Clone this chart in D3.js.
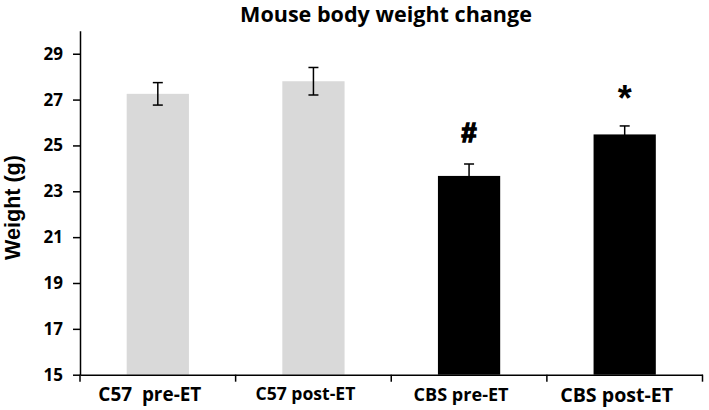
<!DOCTYPE html>
<html><head><meta charset="utf-8">
<script src="https://cdn.jsdelivr.net/npm/d3@7"></script>
<style>body{margin:0;background:#fff}svg{display:block}</style>
</head><body>
<script>
const categories = ["C57  pre-ET", "C57 post-ET", "CBS pre-ET", "CBS post-ET"];
const values = [27.25, 27.8, 23.67, 25.48];
const errors = [0.49, 0.6, 0.52, 0.37];
const colors = ["#d9d9d9", "#d9d9d9", "#000000", "#000000"];
const markers = ["", "", "#", "*"];
const yTicks = [15, 17, 19, 21, 23, 25, 27, 29];

const W = 709, H = 410;
const m = {left: 80, right: 6.5, top: 30.8, bottom: 35.3};
const font = "'Open Sans', sans-serif";
const svg = d3.select("body").append("svg").attr("width", W).attr("height", H);

const x = d3.scaleBand().domain(categories).range([m.left, W - m.right]).paddingInner(0).paddingOuter(0);
const y = d3.scaleLinear().domain([15, 30]).range([H - m.bottom, m.top]);

const bw = x.bandwidth() * 0.4;

svg.selectAll("rect.bar").data(categories).enter().append("rect")
  .attr("x", (d) => x(d) + x.bandwidth() / 2 - bw / 2)
  .attr("y", (d, i) => y(values[i]))
  .attr("width", bw)
  .attr("height", (d, i) => y(15) - y(values[i]))
  .attr("fill", (d, i) => colors[i]);

// error bars
const eb = svg.append("g").attr("stroke", "#000").attr("stroke-width", 1.5);
categories.forEach((c, i) => {
  const cx = x(c) + x.bandwidth() / 2;
  const hi = y(values[i] + errors[i]), lo = y(values[i] - errors[i]);
  eb.append("line").attr("x1", cx).attr("x2", cx).attr("y1", hi).attr("y2", lo);
  eb.append("line").attr("x1", cx - 5).attr("x2", cx + 5).attr("y1", hi).attr("y2", hi);
  eb.append("line").attr("x1", cx - 5).attr("x2", cx + 5).attr("y1", lo).attr("y2", lo);
});

// markers
categories.forEach((c, i) => {
  if (!markers[i]) return;
  const cx = x(c) + x.bandwidth() / 2;
  const star = markers[i] === "*";
  svg.append("text").attr("x", cx)
    .attr("y", y(values[i] + errors[i]) - (star ? 15 : 22))
    .attr("text-anchor", "middle").attr("font-family", "'Liberation Sans', Arial, sans-serif").attr("font-weight", "bold")
    .attr("font-size", star ? 36 : 27)
    .attr("stroke", "#000").attr("stroke-width", star ? 0 : 1.6)
    .text(markers[i]);
});

function fitWidth(sel, target) {
  const n = sel.node();
  const fs = parseFloat(sel.attr("font-size"));
  const w = n.getComputedTextLength();
  sel.attr("font-size", fs * target / w);
}

// y axis
const ya = svg.append("g").attr("transform", `translate(${m.left},0)`)
  .call(d3.axisLeft(y).tickValues(yTicks).tickSize(7).tickSizeOuter(0).tickPadding(10));
ya.select(".domain").attr("stroke-width", 1.5);
ya.selectAll(".tick line").attr("stroke-width", 1.5);
ya.selectAll(".tick text").attr("font-family", font).attr("font-weight", "bold").attr("font-size", 17).attr("fill", "#000");

// x axis
const xa = svg.append("g").attr("transform", `translate(0,${H - m.bottom})`)
  .call(d3.axisBottom(x).tickSize(0).tickPadding(13));
xa.select(".domain").attr("stroke-width", 1.5);
const labelW = [103, 100, 95, 113];
xa.selectAll(".tick text").attr("font-family", font).attr("font-weight", "bold").attr("font-size", 15)
  .attr("fill", "#000").attr("dx", -8).style("white-space", "pre")
  .each(function(d, i) { fitWidth(d3.select(this), labelW[i]); });
const bounds = [m.left].concat(categories.map(c => x(c) + x.bandwidth()));
xa.selectAll("line.bt").data(bounds).enter().append("line")
  .attr("x1", d => d).attr("x2", d => d).attr("y1", 0).attr("y2", 7)
  .attr("stroke", "#000").attr("stroke-width", 1.5);

// title
const title = svg.append("text").attr("x", 386).attr("y", 22).attr("text-anchor", "middle")
  .attr("font-family", font).attr("font-weight", "bold").attr("font-size", 20).text("Mouse body weight change");
fitWidth(title, 292);

// y label
const yl = svg.append("text").attr("transform", `translate(20,207.5) rotate(-90)`).attr("text-anchor", "middle")
  .attr("font-family", "'Liberation Sans', Arial, sans-serif").attr("font-weight", "bold").attr("font-size", 21).text("Weight (g)");
fitWidth(yl, 105);
</script>
</body></html>
